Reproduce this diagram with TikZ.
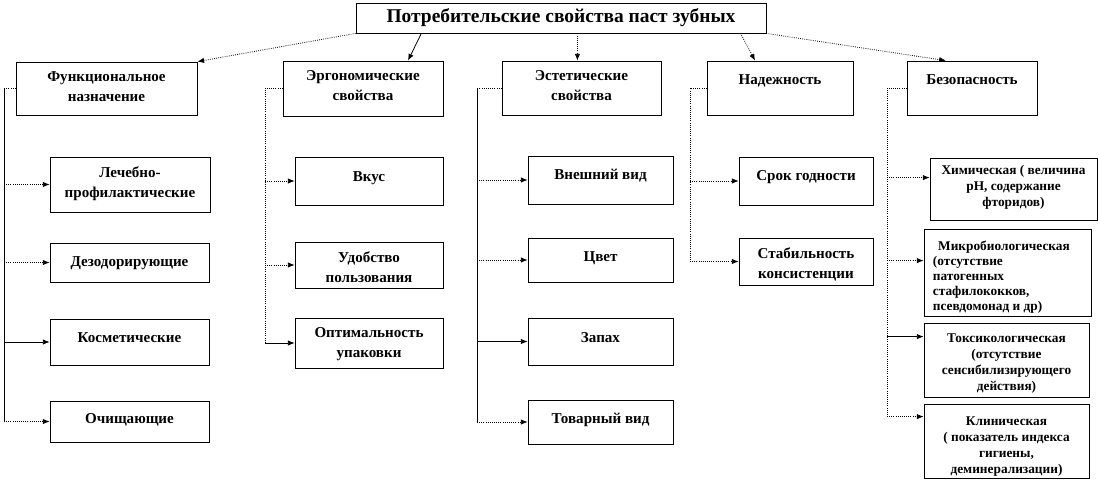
\documentclass[tikz,border=0pt]{standalone}
\usepackage{fontspec}
\setmainfont{Liberation Serif}
\usetikzlibrary{arrows.meta,positioning,fit,calc}

\begin{document}
\begin{tikzpicture}[x=0.75pt,y=0.75pt,yscale=-1,xscale=1,
    box/.style={draw, line width=0.6pt, inner sep=0pt},
    txt/.style={font=\fontsize{11.3}{15}\selectfont\bfseries, align=center, inner sep=0pt, execute at begin node=\strut},
    stxt/.style={font=\fontsize{10}{12}\selectfont\bfseries, align=center, inner sep=0pt, execute at begin node=\strut},
    arr/.style={-{Latex[length=5pt,width=4pt]}, line width=0.6pt},
    darr/.style={arr, densely dotted},
    dline/.style={densely dotted, line width=0.6pt},
    sline/.style={line width=0.6pt}]
        \useasboundingbox (0,0) rectangle (1099,481);

        %Shape: Rectangle [title]
        \node[box, font=\fontsize{14.6}{16}\selectfont\bfseries, minimum width=307.5pt, minimum height=22.5pt] (title) at (561,18) {Потребительские свойства паст зубных};

        %Shape: Rectangle [headers]
        \node[box, fit={(16,62) (197,115)}] (func) {};
        \node[box, fit={(283,61) (443,116)}] (ergo) {};
        \node[box, fit={(502,61) (661,115)}] (aest) {};
        \node[box, fit={(707,61) (853,115)}] (rel) {};
        \node[box, fit={(907,61) (1037,115)}] (safe) {};
        % Text Node
        \node[txt, below=7.5pt of func.north] (funcT) {Функциональное\\назначение};
        \node[txt, below=7.5pt of ergo.north] (ergoT) {Эргономические\\свойства};
        \node[txt, below=7.5pt of aest.north] (aestT) {Эстетические\\свойства};
        \node[txt, below=7.5pt of rel.north] (relT) {Надежность};
        \node[txt, below=7.5pt of safe.north] (safeT) {Безопасность};

        %Shape: Rectangle [functional]
        \node[box, fit={(50,157) (210,212)}] (lech) {};
        \node[box, fit={(50,243) (209,282)}] (dez) {};
        \node[box, fit={(50,319) (209,365)}] (kosm) {};
        \node[box, fit={(50,401) (209,442)}] (och) {};
        % Text Node
        \node[txt, below=7.5pt of lech.north] (lechT) {Лечебно-\\профилактические};
        \node[txt, below=7.5pt of dez.north] (dezT) {Дезодорирующие};
        \node[txt, below=7.5pt of kosm.north] (kosmT) {Косметические};
        \node[txt, below=6.5pt of och.north] (ochT) {Очищающие};

        %Shape: Rectangle [ergonomic]
        \node[box, fit={(295,157) (443,205)}] (vkus) {};
        \node[box, fit={(295,242) (443,288)}] (udob) {};
        \node[box, fit={(295,318) (443,368)}] (opt) {};
        % Text Node
        \node[txt, below=8.2pt of vkus.north] (vkusT) {Вкус};
        \node[txt, below=7.5pt of udob.north] (udobT) {Удобство\\пользования};
        \node[txt, below=7.5pt of opt.north] (optT) {Оптимальность\\упаковки};

        %Shape: Rectangle [aesthetic]
        \node[box, fit={(528,156) (673,204)}] (vid) {};
        \node[box, fit={(528,238) (673,282)}] (cvet) {};
        \node[box, fit={(528,318) (673,365)}] (zap) {};
        \node[box, fit={(528,400) (673,444)}] (tov) {};
        % Text Node
        \node[txt, below=7.5pt of vid.north] (vidT) {Внешний вид};
        \node[txt, below=7.5pt of cvet.north] (cvetT) {Цвет};
        \node[txt, below=8.2pt of zap.north] (zapT) {Запах};
        \node[txt, below=7.5pt of tov.north] (tovT) {Товарный вид};

        %Shape: Rectangle [reliability]
        \node[box, fit={(739,157) (873,205)}] (srok) {};
        \node[box, fit={(739,238) (873,285)}] (stab) {};
        % Text Node
        \node[txt, below=7.5pt of srok.north] (srokT) {Срок годности};
        \node[txt, below=7.5pt of stab.north] (stabT) {Стабильность\\консистенции};

        %Shape: Rectangle [safety]
        \node[box, fit={(930,158) (1097,220)}] (chem) {};
        \node[box, fit={(924,229) (1091,316)}] (micro) {};
        \node[box, fit={(924,323) (1089,397)}] (tox) {};
        \node[box, fit={(924,404) (1089,478)}] (clin) {};
        % Text Node
        \node[stxt, below=5.5pt of chem.north] (chemT) {Химическая ( величина\\pH, содержание\\фторидов)};
        \node[stxt, font=\fontsize{10}{11.2}\selectfont\bfseries, align=left, below right=9pt and 6.75pt of micro.north west] (microT) {\hspace*{4pt}Микробиологическая\\(отсутствие\\патогенных\\стафилококков,\\псевдомонад и др)};
        \node[stxt, below=8.5pt of tox.north] (toxT) {Токсикологическая\\(отсутствие\\сенсибилизирующего\\действия)};
        \node[stxt, below=9.5pt of clin.north] (clinT) {Клиническая\\( показатель индекса\\гигиены,\\деминерализации)};

        % arrows from the title
        \draw[darr] (title.south west) -- (func.north east);
        \draw[arr] ($(title.south west)!0.16!(title.south east)$) -- ($(ergo.north west)!0.78!(ergo.north east)$);
        \coordinate (tA) at ($(title.south west)!0.54!(title.south east)$);
        \draw[darr] (tA) -- (tA |- aest.north);
        \draw[darr] ($(title.south west)!0.937!(title.south east)$) -- ($(rel.north west)!0.33!(rel.north east)$);
        \draw[darr] (title.south east) -- ($(safe.north west)!0.3!(safe.north east)$);

        % functional branch
        \coordinate (fS) at (4,0);
        \draw[dline] (func.west) -- (func.west -| fS);
        \draw[sline] (func.west -| fS) -- (och.west -| fS);
        \draw[darr] (lech.west -| fS) -- (lech.west);
        \draw[darr] (dez.west -| fS) -- (dez.west);
        \draw[arr] (kosm.west -| fS) -- (kosm.west);
        \draw[darr] (och.west -| fS) -- (och.west);

        % ergonomic branch
        \coordinate (eS) at (265,0);
        \draw[dline] (ergo.west) -- (ergo.west -| eS) -- (opt.west -| eS);
        \draw[darr] (vkus.west -| eS) -- (vkus.west);
        \draw[darr] (udob.west -| eS) -- (udob.west);
        \draw[arr] (opt.west -| eS) -- (opt.west);

        % aesthetic branch
        \coordinate (aS) at (477,0);
        \draw[dline] (aest.west) -- (aest.west -| aS);
        \draw[sline] (aest.west -| aS) -- (tov.west -| aS);
        \draw[darr] (vid.west -| aS) -- (vid.west);
        \draw[darr] (cvet.west -| aS) -- (cvet.west);
        \draw[arr] (zap.west -| aS) -- (zap.west);
        \draw[darr] (tov.west -| aS) -- (tov.west);

        % reliability branch
        \coordinate (rS) at (690,0);
        \draw[dline] (rel.west) -- (rel.west -| rS) -- (stab.west -| rS);
        \draw[darr] (srok.west -| rS) -- (srok.west);
        \draw[darr] (stab.west -| rS) -- (stab.west);

        % safety branch
        \coordinate (sS) at (887,0);
        \coordinate (chemA) at ([yshift=15pt]chem.north west);
        \coordinate (microA) at ([yshift=24pt]micro.north west);
        \coordinate (toxA) at ([yshift=10.5pt]tox.north west);
        \coordinate (clinA) at ([yshift=9.75pt]clin.north west);
        \draw[dline] (safe.west) -- (safe.west -| sS) -- (clinA -| sS);
        \draw[darr] (chemA -| sS) -- (chemA);
        \draw[darr] (microA -| sS) -- (microA);
        \draw[arr] (toxA -| sS) -- (toxA);
        \draw[darr] (clinA -| sS) -- (clinA);

\end{tikzpicture}
\end{document}
